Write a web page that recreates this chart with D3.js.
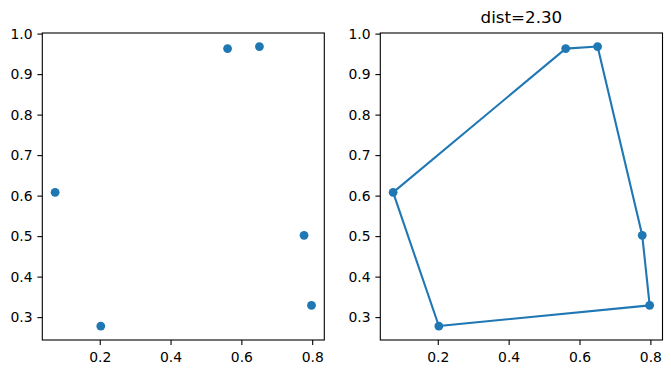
<!DOCTYPE html>
<html>
<head>
<meta charset="utf-8">
<script src="https://cdn.jsdelivr.net/npm/d3@7"></script>
<style>
  body { margin: 0; background: #fff; }
  svg text { font-family: "DejaVu Sans", sans-serif; fill: #000; }
  .axis path, .axis line { stroke: #000; stroke-width: 1.1; }
</style>
</head>
<body>
<svg id="fig" width="671" height="374"></svg>
<script>
// points
const xs = [0.074, 0.203, 0.561, 0.651, 0.777, 0.798]
const ys = [0.608, 0.278, 0.963, 0.968, 0.502, 0.329]
// tour order for the right panel
const tour = [0, 2, 3, 4, 5, 1, 0]
const xTicks = [0.2, 0.4, 0.6, 0.8]
const yTicks = [0.3, 0.4, 0.5, 0.6, 0.7, 0.8, 0.9, 1.0]
const title = 'dist=2.30'

const color = '#1f77b4'
const svg = d3.select('#fig')

const axTop = 33, axBottom = 340
const panels = [
  { left: 42.3, right: 324.3, line: false },
  { left: 380.3, right: 662.5, line: true }
]

panels.forEach(p => {
  const x = d3.scaleLinear().domain([0.0378, 0.8342]).range([p.left, p.right])
  const y = d3.scaleLinear().domain([0.2435, 1.0015]).range([axBottom, axTop])

  const g = svg.append('g')

  g.append('g')
    .attr('class', 'axis')
    .attr('transform', `translate(0, ${axBottom})`)
    .call(d3.axisBottom(x).tickValues(xTicks).tickSize(4.9).tickPadding(7.2).tickFormat(d3.format('.1f')))
    .call(a => a.selectAll('text').attr('font-size', 13.9).attr('font-family', 'DejaVu Sans'))
    .call(a => a.select('.domain').remove())

  g.append('g')
    .attr('class', 'axis')
    .attr('transform', `translate(${p.left}, 0)`)
    .call(d3.axisLeft(y).tickValues(yTicks).tickSize(4.9).tickPadding(4.9).tickFormat(d3.format('.1f')))
    .call(a => a.selectAll('text').attr('font-size', 13.9).attr('font-family', 'DejaVu Sans'))
    .call(a => a.select('.domain').remove())

  // frame
  g.append('rect')
    .attr('x', p.left)
    .attr('y', axTop)
    .attr('width', p.right - p.left)
    .attr('height', axBottom - axTop)
    .attr('fill', 'none')
    .attr('stroke', '#000')
    .attr('stroke-width', 1.1)

  if (p.line) {
    const line = d3.line()
      .x(i => x(xs[i]))
      .y(i => y(ys[i]))
    g.append('path')
      .datum(tour)
      .attr('d', line)
      .attr('fill', 'none')
      .attr('stroke', color)
      .attr('stroke-width', 2.1)
      .attr('stroke-linejoin', 'round')

    g.append('text')
      .attr('x', (p.left + p.right) / 2)
      .attr('y', 23)
      .attr('text-anchor', 'middle')
      .attr('font-size', 16.7)
      .text(title)
  }

  g.selectAll('circle')
    .data(xs.map((d, i) => i))
    .enter()
    .append('circle')
    .attr('cx', i => x(xs[i]))
    .attr('cy', i => y(ys[i]))
    .attr('r', 4.4)
    .attr('fill', color)
})
</script>
</body>
</html>
